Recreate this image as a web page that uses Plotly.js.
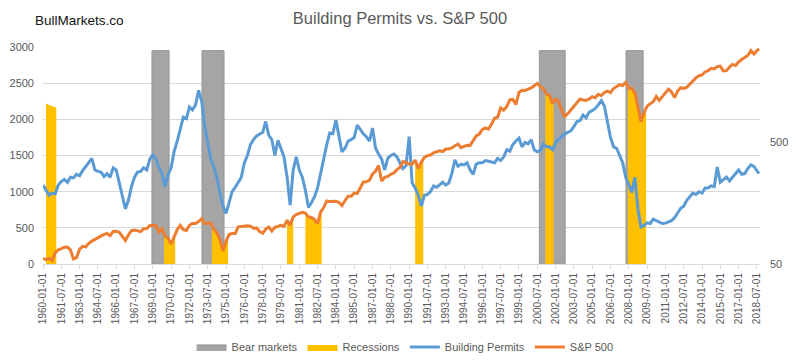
<!DOCTYPE html>
<html>
<head>
<meta charset="utf-8">
<script src="https://cdn.plot.ly/plotly-3.0.1.min.js"></script>
<style>html,body{margin:0;padding:0;background:#fff;}#chart{width:800px;height:362px;}</style>
</head>
<body>
<div id="chart"></div>
<script>
// Quarterly observations (Jan, Apr, Jul, Oct) from 1960-01 to 2018-07, plus 2018-09
const lastPointDate = '2018-09-01';

// Building permits (thousands of units, SAAR) – left axis
const buildingPermits = [
  1092, 1010, 950, 980,
  970, 1090, 1140, 1170,
  1130, 1200, 1190, 1240,
  1220, 1290, 1340, 1400,
  1460, 1300, 1280, 1270,
  1210, 1250, 1200, 1330,
  1300, 1120, 950, 760,
  880, 1070, 1200, 1270,
  1280, 1330, 1300, 1450,
  1510, 1450, 1340, 1250,
  1070, 1230, 1330, 1560,
  1700, 1850, 2030, 2010,
  2170, 2130, 2200, 2400,
  2250, 1900, 1680, 1450,
  1340, 1200, 980, 800,
  700, 860, 1000, 1060,
  1130, 1200, 1400, 1500,
  1650, 1720, 1770, 1800,
  1820, 1970, 1780, 1720,
  1500, 1710, 1600, 1480,
  1200, 815, 1300, 1480,
  1300, 1200, 1020, 780,
  850, 930, 1050, 1250,
  1480, 1650, 1810, 1800,
  1990, 1780, 1550, 1600,
  1700, 1720, 1750, 1920,
  1850, 1800, 1760, 1700,
  1880, 1600, 1520, 1450,
  1300, 1460, 1500, 1520,
  1480, 1400, 1320, 1360,
  1760, 1120, 1050, 950,
  800, 950, 960, 1000,
  1080, 1060, 1100, 1130,
  1090, 1120, 1250, 1440,
  1350, 1380, 1370, 1400,
  1300, 1240, 1380, 1400,
  1400, 1430, 1420, 1410,
  1400, 1460, 1430, 1480,
  1580, 1560, 1650, 1700,
  1740, 1620, 1680, 1660,
  1720, 1580, 1550, 1570,
  1660, 1620, 1620, 1580,
  1680, 1720, 1760, 1800,
  1820, 1840, 1900, 1970,
  1980, 2060, 2020, 2100,
  2120, 2150, 2200, 2260,
  2180, 1950, 1750, 1620,
  1600, 1500, 1400, 1200,
  1080, 990, 1200, 750,
  510, 530, 570, 560,
  620, 600, 570, 560,
  565, 580, 600, 640,
  700, 770, 800, 880,
  930, 980, 960, 1000,
  980, 1050, 1050, 1080,
  1070, 1340, 1130, 1160,
  1200, 1150, 1200, 1240,
  1300, 1240, 1250, 1320,
  1370, 1350, 1300, 1250
];

// S&P 500 index level – right (log) axis
const sp500 = [
  55.6, 54.4, 55.5, 53.4,
  61.8, 65.3, 66.8, 68.6,
  68.8, 65.2, 55.0, 56.5,
  66.2, 69.8, 69.1, 74.0,
  77.0, 79.5, 83.2, 85.0,
  87.6, 89.1, 85.3, 92.4,
  92.9, 91.1, 83.6, 78.0,
  86.6, 94.0, 94.8, 93.3,
  92.2, 97.5, 97.7, 103.4,
  103.0, 103.7, 91.8, 97.1,
  85.0, 81.5, 73.0, 83.3,
  95.9, 103.9, 95.6, 94.2,
  103.9, 107.7, 107.4, 111.6,
  118.0, 107.0, 108.2, 108.3,
  96.6, 90.3, 79.3, 64.0,
  77.0, 87.3, 88.8, 89.0,
  100.9, 101.6, 103.4, 102.9,
  102.0, 98.4, 98.9, 92.3,
  89.3, 96.8, 100.7, 93.2,
  99.9, 101.8, 103.8, 101.8,
  114.2, 104.0, 121.7, 127.5,
  129.6, 132.8, 130.9, 121.9,
  120.4, 116.4, 107.1, 133.7,
  145.3, 164.4, 162.6, 163.6,
  163.4, 160.1, 150.7, 166.1,
  179.6, 179.8, 190.9, 189.8,
  211.8, 235.5, 236.1, 244.0,
  274.1, 288.4, 322.0, 240.0,
  257.1, 261.3, 272.0, 279.0,
  297.5, 309.6, 346.1, 340.4,
  329.1, 330.8, 356.2, 304.0,
  343.9, 375.4, 387.8, 392.5,
  408.8, 415.0, 424.2, 418.7,
  438.8, 440.2, 448.1, 467.8,
  481.6, 450.9, 458.3, 472.4,
  470.4, 514.7, 562.1, 581.5,
  636.0, 654.2, 640.0, 705.3,
  786.2, 801.3, 954.3, 914.6,
  980.3, 1111.8, 1120.7, 1017.0,
  1279.6, 1335.2, 1328.7, 1362.9,
  1394.5, 1452.4, 1517.7, 1429.4,
  1366.0, 1249.5, 1211.2, 1040.9,
  1130.2, 1076.9, 911.6, 815.3,
  855.7, 916.9, 990.3, 1050.7,
  1131.1, 1107.3, 1101.7, 1130.2,
  1181.3, 1156.9, 1234.2, 1207.0,
  1280.1, 1310.6, 1276.7, 1377.9,
  1438.2, 1482.4, 1455.3, 1549.4,
  1378.6, 1385.6, 1267.4, 968.8,
  735.1, 872.8, 987.5, 1036.2,
  1073.9, 1186.7, 1101.6, 1183.3,
  1286.1, 1363.6, 1292.3, 1160.0,
  1312.4, 1397.9, 1379.3, 1412.2,
  1498.1, 1597.6, 1685.7, 1756.5,
  1782.6, 1884.0, 1930.7, 2018.1,
  1995.0, 2085.5, 2103.8, 1920.0,
  1932.0, 2065.3, 2173.6, 2126.2,
  2278.9, 2384.2, 2470.3, 2575.3,
  2823.8, 2648.1, 2816.3, 2914.0
];

// Bear markets (shaded up to this level on the left axis)
const bearStarts = ['1968-12-05', '1973-01-10', '2000-09-01', '2007-10-10'];
const bearEnds   = ['1970-05-01', '1974-11-01', '2002-10-15', '2009-03-05'];
const bearHeight = 2950;

// Recessions (shaded up to the S&P 500 line)
const recStarts = ['1969-12-01', '1973-11-01', '1980-01-01', '1981-07-01', '1990-07-01', '2001-03-01', '2007-12-01'];
const recEnds   = ['1970-11-01', '1975-03-01', '1980-07-01', '1982-11-01', '1991-03-01', '2001-11-01', '2009-06-01'];
// 1960-61 recession drawn on the left axis with its own top
const rec1960Dates = ['1960-04-01', '1960-06-01', '1960-08-01', '1960-10-01', '1960-12-01', '1961-02-01'];
const rec1960Top   = [2220, 2200, 2190, 2180, 2170, 2165];

// X-axis tick labels (every 18 months)
const tickLabels = [];
for (let i = 0; i < 40; i++) {
  const m = i * 18;
  const y = 1960 + Math.floor(m / 12);
  const mo = (m % 12) + 1;
  tickLabels.push(y + '-' + String(mo).padStart(2, '0') + '-01');
}

// Observation dates
const dates = [];
for (let y = 1960; y <= 2018; y++) {
  for (const mo of [1, 4, 7, 10]) {
    if (y === 2018 && mo > 7) break;
    dates.push(y + '-' + String(mo).padStart(2, '0') + '-01');
  }
}
dates.push(lastPointDate);

const C_BLUE = '#5B9BD5', C_ORANGE = '#ED7D31', C_YELLOW = '#FFC000', C_GRAY = '#A5A5A5';
const TXT = '#595959';
const FONT = 'Liberation Sans, Arial, sans-serif';
const logMin = Math.log10(50), logMax = 3.48;

const tms = dates.map(d => new Date(d).getTime());
function spAt(d) {
  const t = new Date(d).getTime();
  for (let i = 0; i < tms.length - 1; i++) {
    if (t >= tms[i] && t <= tms[i + 1]) {
      const f = (t - tms[i]) / (tms[i + 1] - tms[i]);
      return Math.pow(10, Math.log10(sp500[i]) + f * (Math.log10(sp500[i + 1]) - Math.log10(sp500[i])));
    }
  }
  return sp500[sp500.length - 1];
}

const traces = [];
bearStarts.forEach((s, i) => {
  const e = bearEnds[i];
  traces.push({
    x: [s, s, e, e, s], y: [0, bearHeight, bearHeight, 0, 0],
    type: 'scatter', mode: 'lines', fill: 'toself', fillcolor: C_GRAY,
    line: {color: '#979797', width: 1}, name: 'Bear markets',
    legendgroup: 'bear', showlegend: i === 0, hoverinfo: 'skip', xaxis: 'x', yaxis: 'y'
  });
});

traces.push({
  x: rec1960Dates.concat([rec1960Dates[rec1960Dates.length - 1], rec1960Dates[0]]),
  y: rec1960Top.concat([0, 0]),
  type: 'scatter', mode: 'lines', fill: 'toself', fillcolor: C_YELLOW,
  line: {color: C_YELLOW, width: 0}, name: 'Recessions',
  legendgroup: 'rec', showlegend: true, hoverinfo: 'skip', xaxis: 'x', yaxis: 'y'
});

recStarts.forEach((s, i) => {
  const e = recEnds[i];
  const ts = new Date(s).getTime(), te = new Date(e).getTime();
  const xs = [s], ys = [spAt(s)];
  dates.forEach((d, k) => {
    if (tms[k] > ts && tms[k] < te) { xs.push(d); ys.push(sp500[k]); }
  });
  xs.push(e, e, s); ys.push(spAt(e), 50, 50);
  traces.push({
    x: xs, y: ys, type: 'scatter', mode: 'lines', fill: 'toself', fillcolor: C_YELLOW,
    line: {color: C_YELLOW, width: 0}, name: 'Recessions',
    legendgroup: 'rec', showlegend: false, hoverinfo: 'skip', xaxis: 'x', yaxis: 'y2'
  });
});

traces.push({
  x: dates, y: buildingPermits, type: 'scatter', mode: 'lines', name: 'Building Permits',
  line: {color: C_BLUE, width: 3}, xaxis: 'x', yaxis: 'y3'
});
traces.push({
  x: dates, y: sp500, type: 'scatter', mode: 'lines', name: 'S&P 500',
  line: {color: C_ORANGE, width: 3}, xaxis: 'x', yaxis: 'y4'
});

const layout = {
  width: 800, height: 362,
  margin: {l: 43, r: 40, t: 47, b: 98, autoexpand: false},
  paper_bgcolor: '#fff', plot_bgcolor: '#fff',
  font: {family: FONT, color: TXT},
  title: {text: 'Building Permits vs. S&amp;P 500', x: 0.5, xref: 'container', y: 0.95, yref: 'container', yanchor: 'middle',
          font: {family: FONT, size: 16.5, color: TXT}},
  showlegend: true,
  legend: {orientation: 'h', x: 0.505, xanchor: 'center', y: -0.382, yanchor: 'middle',
           font: {family: FONT, size: 11, color: TXT}, traceorder: 'normal'},
  xaxis: {
    type: 'date', range: ['1960-01-01', '2018-10-01'], automargin: false,
    tickmode: 'array', tickvals: tickLabels, ticktext: tickLabels, tickangle: -90,
    tickfont: {family: FONT, size: 10, color: TXT},
    ticks: 'outside', ticklen: 4, tickcolor: '#d9d9d9',
    showline: true, linecolor: '#d9d9d9', linewidth: 1, showgrid: false, zeroline: false
  },
  yaxis: {
    range: [0, 3000], dtick: 500, tick0: 0, gridcolor: '#d9d9d9', gridwidth: 1, automargin: false,
    tickfont: {family: FONT, size: 11, color: TXT}, showline: false, zeroline: false,
    ticks: '', ticklabelstandoff: 8
  },
  yaxis2: {
    type: 'log', overlaying: 'y', side: 'right', range: [logMin, logMax], automargin: false,
    tickmode: 'array', tickvals: [50, 500], ticktext: ['50', '500'],
    showgrid: false, zeroline: false, showline: false, ticks: '',
    tickfont: {family: FONT, size: 11, color: TXT}, ticklabelstandoff: 9
  },
  yaxis3: {overlaying: 'y', range: [0, 3000], visible: false},
  yaxis4: {overlaying: 'y', type: 'log', range: [logMin, logMax], visible: false},
  annotations: [{
    text: 'BullMarkets.co', xref: 'paper', yref: 'paper', x: -0.0139, y: 1.12,
    xanchor: 'left', yanchor: 'middle', showarrow: false,
    font: {family: FONT, size: 13.5, color: '#111'}
  }]
};

Plotly.newPlot('chart', traces, layout, {displayModeBar: false, staticPlot: true});
</script>
</body>
</html>
